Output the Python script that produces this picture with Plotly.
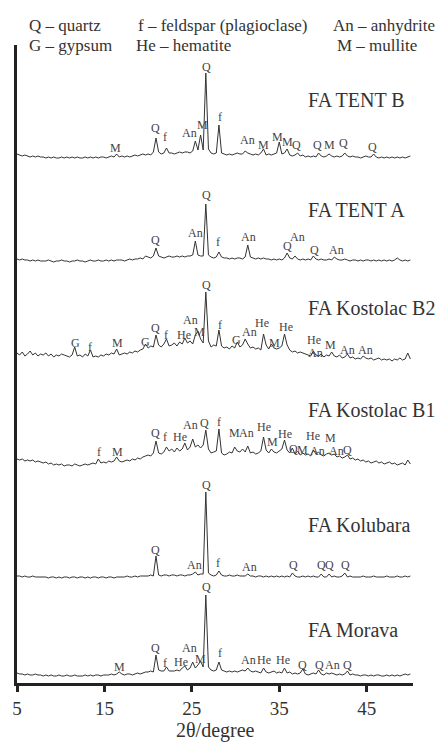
import plotly.graph_objects as go

# 2-theta sampling grid (degrees), 0.3 deg step from 5 to 50
TWO_THETA = [round(5 + 0.3 * i, 1) for i in range(151)]

# Intensities (relative units, above each pattern's own baseline)
TENT_B = [4,3,2,3,2,1,2,1,2,1, 1,0,1,0,1,0,0,1,0,1, 0,1,0,1,0,0,1,0,1,0,
          1,0,1,1,0,1,2,1,4,1, 2,1,2,1,2,3,2,3,4,3, 4,3,6,20,6,4,5,10,5,5,
          4,5,6,5,6,6,5,7,17,8, 23,8,85,9,5,4,5,33,5,4, 3,4,3,4,5,4,4,7,5,4,
          3,4,3,5,9,3,4,3,4,5, 16,4,5,9,3,2,3,5,2,3, 1,2,1,2,1,5,2,1,2,4,
          2,1,2,1,2,5,2,1,2,1, 1,0,1,2,1,1,4,1,0,1, 0,1,0,1,0,1,0,1,0,1,2]
TENT_A = [2,1,2,1,1,0,1,0,1,0, 0,0,1,0,-1,0,0,1,0,0, -1,0,0,1,0,0,-1,0,1,0,
          0,1,0,0,1,0,1,0,1,1, 1,0,1,2,1,2,2,3,2,5, 4,3,5,13,5,4,3,4,5,4,
          4,5,4,5,4,5,5,6,20,6, 5,5,57,6,4,3,4,9,4,3, 3,2,3,2,3,3,2,4,16,4,
          3,2,3,2,3,2,2,1,2,1, 2,1,3,8,3,2,5,2,1,2, 1,2,1,5,2,1,2,1,1,2,
          1,4,2,1,1,2,1,0,1,1, 0,1,0,1,1,0,1,0,1,0, 1,0,1,0,1,3,1,0,1,0,1]
KOSTOLAC_B2 = [9,7,10,6,8,11,7,9,6,8, 7,9,6,8,5,7,6,8,7,6, 5,7,15,6,7,5,8,6,12,5,
               6,5,7,6,8,7,9,8,13,7, 8,9,8,10,9,11,10,12,13,18, 14,16,15,27,17,15,18,23,16,17,
               19,16,20,18,24,19,21,18,27,31, 23,19,70,21,15,17,16,32,16,14, 15,13,16,14,20,15,17,23,18,14,
               15,13,14,12,28,17,13,18,14,13, 14,16,28,17,12,10,11,9,10,9, 8,7,6,11,7,6,8,5,7,6,
               10,6,5,7,4,5,8,4,5,3, 4,3,6,4,3,4,2,3,4,2, 3,2,3,1,3,2,4,2,3,9,3]
KOSTOLAC_B1 = [8,7,8,6,7,6,7,5,6,5, 4,5,3,4,2,3,2,3,1,2, 2,1,3,2,1,2,3,2,3,4,
               3,8,4,5,4,6,5,6,10,6, 5,6,7,6,8,7,9,8,10,11, 12,11,14,26,14,13,15,20,16,18,
               15,19,16,18,24,17,20,28,20,22, 19,22,37,18,14,15,16,38,14,12, 13,15,14,20,16,15,18,15,21,14,
               15,13,14,16,30,17,14,18,15,14, 16,18,27,17,14,19,13,16,12,14, 12,13,11,17,13,15,12,11,13,14,
               12,13,10,11,9,10,12,8,9,7, 8,6,7,5,6,4,5,6,4,5, 3,4,5,3,4,2,3,4,2,7,3]
KOLUBARA = [2,2,1,2,1,1,2,1,1,1, 1,1,0,1,1,0,1,0,1,1, 0,1,1,0,1,1,0,1,0,1,
            1,0,1,1,0,1,1,0,1,1, 1,1,2,1,1,2,1,2,2,2, 2,3,2,22,3,2,3,3,2,3,
            3,2,3,3,2,3,3,4,6,3, 4,4,86,5,3,2,3,7,3,2, 2,3,2,2,3,2,2,2,4,2,
            2,1,2,2,1,2,1,2,1,2, 1,2,1,2,1,5,2,1,1,2, 1,2,1,2,1,1,4,1,1,4,
            1,2,1,1,2,5,1,2,1,1, 1,1,2,1,1,1,2,1,1,1, 1,2,1,1,1,2,1,1,2,1,2]
MORAVA = [4,3,3,2,3,2,2,3,2,2, 1,2,1,2,1,1,2,1,1,2, 1,1,2,1,1,1,2,1,2,1,
          2,2,1,2,2,2,3,2,3,5, 3,2,3,3,2,3,4,3,4,5, 5,6,5,22,7,6,6,10,6,6,
          6,7,6,9,11,7,9,15,9,12, 16,10,82,10,7,6,7,15,7,6, 5,6,5,6,5,6,7,6,9,6,
          5,6,5,4,9,5,4,5,6,4, 5,4,9,4,5,3,4,3,4,8, 3,2,3,4,3,7,3,2,4,3,
          4,3,2,3,2,3,6,2,3,2, 2,1,2,2,1,2,1,2,2,1, 1,2,1,2,1,2,1,2,3,2,3]

SAMPLES = ["FA TENT B", "FA TENT A", "FA Kostolac B2", "FA Kostolac B1", "FA Kolubara", "FA Morava"]
SERIES = [TENT_B, TENT_A, KOSTOLAC_B2, KOSTOLAC_B1, KOLUBARA, MORAVA]

# Peak assignments per pattern: (phase label, 2theta, label height above baseline)
PEAKS_TENT_B = [("M",16.3,10),("Q",20.9,30),("f",21.9,21),("An",24.7,25),("M",26.2,33),("Q",26.65,91),
                ("f",28.2,41),("An",31.4,18),("M",33.2,13),("M",34.8,21),("M",35.9,16),("Q",37.0,13),
                ("Q",39.4,13),("M",40.8,13),("Q",42.3,15),("Q",45.7,11)]
PEAKS_TENT_A = [("Q",20.8,21),("An",25.4,28),("Q",26.65,66),("f",28.0,19),("An",31.5,24),
                ("Q",35.9,15),("An",37.1,24),("Q",39.0,11),("An",41.5,11)]
PEAKS_B2 = [("G",11.7,19),("f",13.4,15),("M",16.5,19),("G",19.7,20),("Q",20.8,34),("f",22.0,27),
            ("He",24.1,27),("An",24.8,42),("M",25.9,30),("Q",26.65,77),("f",28.2,37),("G",30.1,22),
            ("An",31.6,30),("He",33.0,39),("M",34.4,19),("He",35.8,35),("He",39.0,22),("An",39.2,9),
            ("M",40.9,17),("An",42.8,12),("An",44.9,12)]
PEAKS_B1 = [("f",14.4,15),("M",16.5,15),("Q",20.8,34),("f",21.9,30),("He",23.6,30),("An",24.9,42),
            ("Q",26.4,44),("f",28.1,45),("M",29.9,34),("An",31.3,34),("He",33.2,40),("M",34.2,25),
            ("He",35.7,33),("Q",36.6,18),("M",37.7,17),("He",38.9,31),("An",39.4,16),("M",40.9,29),
            ("An",41.5,16),("Q",42.8,17)]
PEAKS_KOLUBARA = [("Q",20.9,28),("An",25.3,13),("Q",26.65,93),("f",28.0,15),("An",31.6,11),
                  ("Q",36.6,13),("Q",39.8,13),("Q",40.7,13),("Q",42.6,13)]
PEAKS_MORAVA = [("M",16.7,10),("Q",20.9,29),("f",21.9,14),("He",23.8,15),("An",24.7,29),("M",26.0,18),
                ("Q",26.65,90),("f",28.2,24),("An",31.5,17),("He",33.3,17),("He",35.4,17),("Q",37.7,12),
                ("Q",39.6,12),("An",41.1,12),("Q",42.8,12)]
PEAKS = [PEAKS_TENT_B, PEAKS_TENT_A, PEAKS_B2, PEAKS_B1, PEAKS_KOLUBARA, PEAKS_MORAVA]

LEGEND_ROW1 = ["Q – quartz", "f – feldspar (plagioclase)", "An – anhydrite"]
LEGEND_ROW2 = ["G – gypsum", "He – hematite", "M – mullite"]
X_TICKS = [5, 15, 25, 35, 45]

# layout: vertical offset of each pattern (stacking), height of sample names
OFFSETS = [525, 422, 321, 216, 105, 6]
NAME_Y = [583, 473, 375, 273, 158, 53]

FONT = "Liberation Serif, Times New Roman, serif"
PLOT_H = 638.0
fig = go.Figure()
annotations = []
for name, ys, off, peaks, ny in zip(SAMPLES, SERIES, OFFSETS, PEAKS, NAME_Y):
    assert len(ys) == len(TWO_THETA)
    fig.add_trace(go.Scatter(x=TWO_THETA, y=[v + off for v in ys], mode="lines",
                             line=dict(color="#333333", width=1), name=name,
                             showlegend=False, hoverinfo="skip"))
    for lab, px, h in peaks:
        annotations.append(dict(x=px, y=off + h, text=lab, showarrow=False,
                                font=dict(family=FONT, size=12, color="#444444"),
                                xanchor="center", yanchor="middle"))
    annotations.append(dict(x=38.1, y=ny, text=name, showarrow=False,
                            font=dict(family=FONT, size=20, color="#333333"),
                            xanchor="left", yanchor="middle"))

def deg_to_paper(d):
    return (d - 5) / (50.3 - 5)

for txt, xx in zip(LEGEND_ROW1, [6.1, 18.6, 40.9]):
    annotations.append(dict(x=deg_to_paper(xx), y=1 + 20 / PLOT_H, xref="paper", yref="paper",
                            text=txt, showarrow=False,
                            font=dict(family=FONT, size=17, color="#333333"),
                            xanchor="left", yanchor="middle"))
for txt, xx in zip(LEGEND_ROW2, [6.1, 18.4, 41.4]):
    annotations.append(dict(x=deg_to_paper(xx), y=1 + 0 / PLOT_H, xref="paper", yref="paper",
                            text=txt, showarrow=False,
                            font=dict(family=FONT, size=17, color="#333333"),
                            xanchor="left", yanchor="middle"))

annotations.append(dict(x=0.5, y=-47 / PLOT_H, xref="paper", yref="paper", text="2θ/degree",
                        showarrow=False, font=dict(family=FONT, size=20, color="#333333"),
                        xanchor="center", yanchor="middle"))

fig.update_layout(
    width=442, height=743,
    margin=dict(l=14, r=29, t=45, b=60),
    paper_bgcolor="white", plot_bgcolor="white",
    annotations=annotations,
    xaxis=dict(range=[5, 50.3], showline=True, linewidth=2.5, linecolor="#222222",
               showgrid=False, zeroline=False, ticks="outside", ticklen=6, tickwidth=2.5,
               tickcolor="#222222", tickvals=X_TICKS, ticktext=[str(t) for t in X_TICKS],
               tickfont=dict(family=FONT, size=19, color="#333333")),
    yaxis=dict(range=[0, PLOT_H], showline=True, linewidth=2.5, linecolor="#222222",
               showgrid=False, zeroline=False, showticklabels=False, ticks=""),
)
fig.write_html("out.html", config={"displayModeBar": False},
               post_script="document.body.style.margin='0';document.body.style.overflow='hidden';")
